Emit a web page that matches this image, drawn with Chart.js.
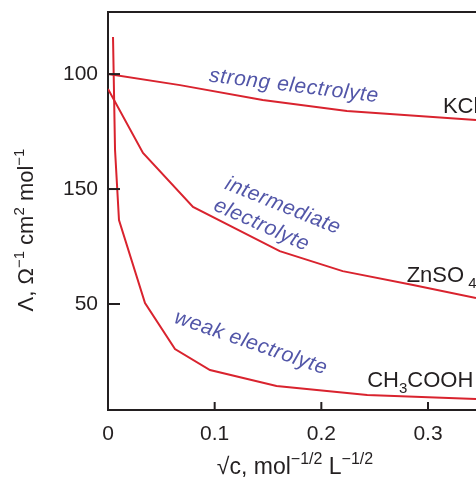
<!DOCTYPE html>
<html>
<head>
<meta charset="utf-8">
<script src="https://cdn.jsdelivr.net/npm/chart.js@4/dist/chart.umd.min.js"></script>
<style>
  html, body { margin: 0; padding: 0; background: #fff; }
</style>
</head>
<body>
<canvas id="grafico" width="476" height="479"></canvas>
<script>
// valores (x = raiz de c, y = unidades del eje)
const kclX = [0, 0.0675, 0.145, 0.224, 0.345];
const kclY = [150, 145.2, 138.7, 133.9, 130];

const znso4X = [0, 0.0328, 0.0797, 0.161, 0.220, 0.286, 0.345];
const znso4Y = [143.5, 115.7, 92.2, 73.0, 64.3, 58.3, 52.6];

const acetX = [0.0047, 0.0066, 0.0103, 0.0347, 0.0628, 0.0956, 0.158, 0.243, 0.345];
const acetY = [166.1, 117, 86.5, 50.4, 30.4, 21.3, 14.3, 10.4, 8.7];

const xTickValues = [0, 0.1, 0.2, 0.3];
const xTickLabels = ["0", "0.1", "0.2", "0.3"];
const yTickValues = [150, 100, 50];
const yTickLabels = ["100", "150", "50"];

const fuente = "'Liberation Sans', Arial, sans-serif";
const colorEje = "#231f20";
const rojo = "#d9232e";
const azul = "#5256a8";

function puntos(xs, ys) {
    return xs.map((v, i) => ({ x: v, y: ys[i] }));
}

// texto con superindices / subindices
function textoRico(ctx, segs, x, y, size, align) {
    const medir = s => {
        ctx.font = (s.s ? Math.round(size * 0.68) : size) + "px " + fuente;
        return ctx.measureText(s.t).width;
    };
    const total = segs.reduce((a, s) => a + medir(s), 0);
    let cx = align === "center" ? x - total / 2 : x;
    segs.forEach(s => {
        const w = medir(s);
        let dy = 0;
        if (s.s === "sup") dy = -size * 0.42;
        if (s.s === "sub") dy = size * 0.28;
        ctx.fillText(s.t, cx, y + dy);
        cx += w;
    });
}

const etiquetasNegras = [
    { segs: [{ t: "KCl" }], x: 0.314, y: 133 },
    { segs: [{ t: "ZnSO" }, { t: " 4", s: "sub" }], x: 0.280, y: 59.6 },
    { segs: [{ t: "CH" }, { t: "3", s: "sub" }, { t: "COOH" }], x: 0.243, y: 13.9 }
];

const etiquetasAzules = [
    { t: "strong electrolyte", x: 0.1743, y: 144.8, ang: 7 },
    { t: "intermediate", x: 0.164, y: 92.6, ang: 22 },
    { t: "electrolyte", x: 0.144, y: 84.3, ang: 24 },
    { t: "weak electrolyte", x: 0.134, y: 33.0, ang: 19 }
];

const anotaciones = {
    id: "anotaciones",
    afterDatasetsDraw(chart) {
        const { ctx, chartArea, scales: { x, y } } = chart;
        ctx.save();

        // marcas interiores de los ejes
        ctx.strokeStyle = colorEje;
        ctx.lineWidth = 2;
        xTickValues.forEach(v => {
            if (v === 0) return;
            const px = x.getPixelForValue(v);
            ctx.beginPath();
            ctx.moveTo(px, chartArea.bottom);
            ctx.lineTo(px, chartArea.bottom - 8);
            ctx.stroke();
        });
        yTickValues.forEach(v => {
            const py = y.getPixelForValue(v);
            ctx.beginPath();
            ctx.moveTo(chartArea.left, py);
            ctx.lineTo(chartArea.left + 12, py);
            ctx.stroke();
        });

        // nombres de las curvas
        ctx.fillStyle = colorEje;
        ctx.textBaseline = "alphabetic";
        ctx.textAlign = "left";
        etiquetasNegras.forEach(e => {
            textoRico(ctx, e.segs, x.getPixelForValue(e.x), y.getPixelForValue(e.y), 22, "left");
        });

        // textos azules inclinados
        ctx.fillStyle = azul;
        ctx.textAlign = "center";
        ctx.textBaseline = "middle";
        ctx.font = "italic 21px " + fuente;
        ctx.letterSpacing = "0.6px";
        etiquetasAzules.forEach(e => {
            ctx.save();
            ctx.translate(x.getPixelForValue(e.x), y.getPixelForValue(e.y));
            ctx.rotate(e.ang * Math.PI / 180);
            ctx.fillText(e.t, 0, 0);
            ctx.restore();
        });
        ctx.letterSpacing = "0px";

        // titulos de los ejes
        ctx.fillStyle = colorEje;
        ctx.textAlign = "left";
        ctx.textBaseline = "alphabetic";
        textoRico(ctx, [{ t: "\u221Ac, mol" }, { t: "\u22121/2", s: "sup" }, { t: " L" }, { t: "\u22121/2", s: "sup" }],
            295, 474, 23, "center");

        ctx.save();
        ctx.translate(33, 230);
        ctx.rotate(-Math.PI / 2);
        textoRico(ctx, [{ t: "\u039B, \u03A9" }, { t: "\u22121", s: "sup" }, { t: " cm" }, { t: "2", s: "sup" },
            { t: " mol" }, { t: "\u22121", s: "sup" }], 0, 0, 22, "center");
        ctx.restore();

        ctx.restore();
    }
};

const ctxGrafico = document.getElementById("grafico").getContext("2d");
const serie = (data) => ({
    data: data,
    borderColor: rojo,
    borderWidth: 2,
    pointRadius: 0,
    tension: 0,
    fill: false
});

new Chart(ctxGrafico, {
    type: "line",
    data: {
        datasets: [
            serie(puntos(kclX, kclY)),
            serie(puntos(znso4X, znso4Y)),
            serie(puntos(acetX, acetY))
        ]
    },
    options: {
        responsive: false,
        animation: false,
        layout: { padding: 0 },
        plugins: { legend: { display: false }, tooltip: { enabled: false } },
        scales: {
            x: {
                type: "linear",
                position: "bottom",
                min: 0,
                max: 0.345,
                afterFit: s => { s.height = 69; s.paddingLeft = 0; s.paddingRight = 0; },
                afterBuildTicks: s => { s.ticks = xTickValues.map(v => ({ value: v })); },
                grid: { display: false, drawTicks: false },
                border: { display: true, color: colorEje, width: 2 },
                ticks: {
                    padding: 12,
                    color: colorEje,
                    font: { family: fuente, size: 21 },
                    maxRotation: 0,
                    callback: (v, i) => xTickLabels[i]
                }
            },
            xTop: {
                type: "linear",
                position: "top",
                min: 0,
                max: 0.345,
                afterFit: s => { s.height = 12; s.paddingLeft = 0; s.paddingRight = 0; },
                grid: { display: false, drawTicks: false },
                border: { display: true, color: colorEje, width: 2 },
                ticks: { display: false }
            },
            y: {
                type: "linear",
                min: 3.9,
                max: 177,
                afterFit: s => { s.width = 108; s.paddingTop = 0; s.paddingBottom = 0; },
                afterBuildTicks: s => { s.ticks = yTickValues.map(v => ({ value: v })); },
                grid: { display: false, drawTicks: false },
                border: { display: true, color: colorEje, width: 2 },
                ticks: {
                    padding: 10,
                    color: colorEje,
                    font: { family: fuente, size: 21 },
                    callback: (v, i) => yTickLabels[i]
                }
            }
        }
    },
    plugins: [anotaciones]
});
</script>
</body>
</html>
